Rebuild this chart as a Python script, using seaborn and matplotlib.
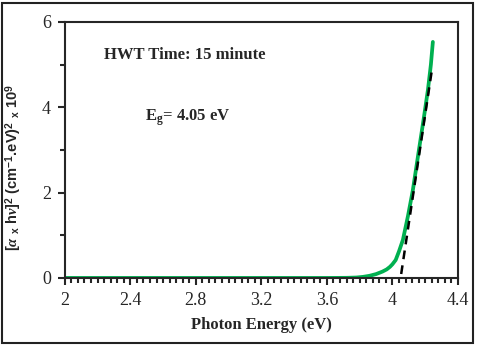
import numpy as np
import pandas as pd
import matplotlib.pyplot as plt
from matplotlib.patches import Rectangle
from matplotlib.ticker import MultipleLocator
import seaborn as sns

# values
photon_energy = [2.0, 2.4, 2.8, 3.2, 3.6, 3.72, 3.78, 3.82, 3.86, 3.9, 3.94, 3.965, 3.985,
                 4.0, 4.02, 4.04, 4.064, 4.095, 4.125, 4.162, 4.19, 4.217, 4.235, 4.247]
alpha_hv_sq = [0.0, 0.0, 0.0, 0.0, 0.0, 0.003, 0.01, 0.025, 0.05, 0.09, 0.15, 0.2, 0.26,
               0.32, 0.42, 0.62, 0.89, 1.45, 2.06, 3.0, 3.7, 4.41, 5.0, 5.53]
fit_energy = [4.04, 4.24]
band_gap = 4.05
fit_slope = 25.5

sns.set_style('ticks')
plt.rcParams['font.family'] = ['Liberation Serif', 'DejaVu Serif']
plt.rcParams['mathtext.fontset'] = 'custom'
plt.rcParams['mathtext.rm'] = 'Liberation Sans:bold'
plt.rcParams['mathtext.bf'] = 'Liberation Sans:bold'
plt.rcParams['mathtext.it'] = 'Liberation Serif:italic:bold'

df = pd.DataFrame({'energy': photon_energy, 'value': alpha_hv_sq})
fit = pd.DataFrame({'energy': fit_energy,
                    'value': [fit_slope * (e - band_gap) for e in fit_energy]})

fig = plt.figure(figsize=(4.8, 3.47), dpi=100)
ax = fig.add_axes([0.135, 0.199, 0.819, 0.738])

sns.lineplot(data=df, x='energy', y='value', color='#00b050', linewidth=2.7, ax=ax)
sns.lineplot(data=fit, x='energy', y='value', color='black', linewidth=1.8,
             linestyle=(0, (3.5, 2.5)), ax=ax)

ax.set_xlim(2, 4.4)
ax.set_ylim(0, 6)
ax.xaxis.set_minor_locator(MultipleLocator(0.04))
ax.yaxis.set_minor_locator(MultipleLocator(1))
ax.set_xticks([2, 2.4, 2.8, 3.2, 3.6, 4, 4.4], ['2', '2.4', '2.8', '3.2', '3.6', '4', '4.4'])
ax.set_yticks([0, 2, 4, 6], ['0', '2', '4', '6'])
ax.tick_params(which='major', direction='out', length=5, width=1.5, labelsize=13, pad=5)
ax.tick_params(which='minor', direction='out', length=3.5, width=1.5)
for s in ax.spines.values():
    s.set_linewidth(1.5)
    s.set_visible(True)

ax.set_xlabel('Photon Energy (eV)', fontsize=12, fontweight='bold', labelpad=6)
ax.set_ylabel(r'[$\alpha$ $_{\rm x}$ h$\nu$]$^{2}$ (cm$^{-1}$.eV)$^{2}$ $_{\rm x}$ 10$^{9}$',
              fontsize=10.5, family='Liberation Sans', fontweight='bold')
ax.yaxis.set_label_coords(-0.105, 0.43)

ax.text(2.238, 5.23, 'HWT Time: 15 minute', fontsize=12, fontweight='bold', va='center')
ax.text(2.49, 3.75, r'E$_{\mathregular{g}}$= 4.05 eV', fontsize=12, fontweight='bold', va='center')

fig.patches.append(Rectangle((0.005, 0.012), 0.98, 0.978, transform=fig.transFigure,
                             fill=False, edgecolor='#222222', linewidth=1.5))

fig.savefig('out.png', dpi=100)
